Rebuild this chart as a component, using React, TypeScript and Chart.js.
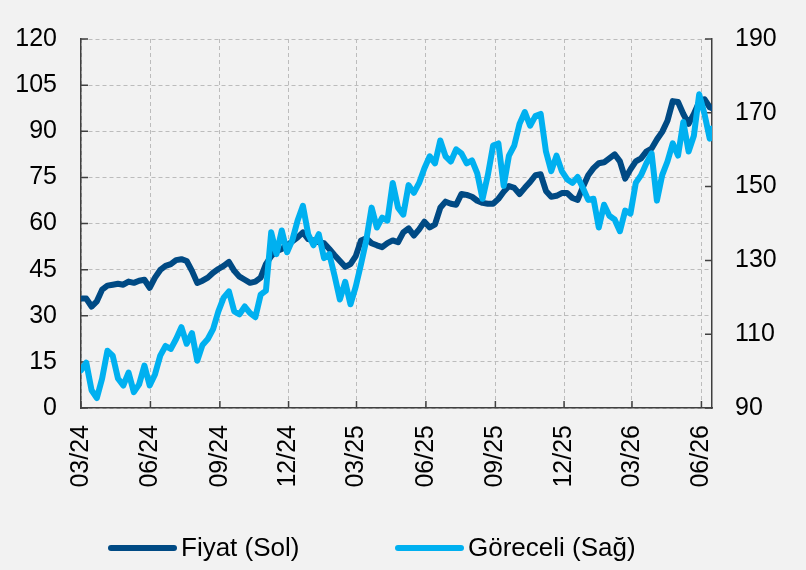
import React, { useEffect, useRef } from "react";
import { Chart, registerables } from "chart.js";

Chart.register(...registerables);

const startDate = "2024-03-01";
const endDay = 836;
const weekStep = 7;

const tickDates = [
  "2024-03-01", "2024-06-01", "2024-09-01", "2024-12-01", "2025-03-01",
  "2025-06-01", "2025-09-01", "2025-12-01", "2026-03-01", "2026-06-01",
];
const tickLabels = ["03/24", "06/24", "09/24", "12/24", "03/25", "06/25", "09/25", "12/25", "03/26", "06/26"];

const leftTicks = { min: 0, max: 120, step: 15 };
const rightTicks = { min: 90, max: 190, step: 20 };

const seriesNames = ["Fiyat (Sol)", "Göreceli (Sağ)"];
const seriesColors = ["#004a84", "#00b0f0"];

const fiyat = [
  35.6, 35.6, 33.0, 34.7, 38.5, 39.8, 40.1, 40.4, 40.1, 41.1,
  40.7, 41.4, 41.7, 39.1, 42.4, 44.9, 46.2, 46.8, 48.1, 48.4,
  47.8, 44.6, 40.7, 41.4, 42.4, 44.0, 45.2, 46.2, 47.5, 44.6,
  42.7, 41.7, 40.7, 41.1, 42.4, 46.8, 49.4, 51.0, 51.7, 52.9,
  54.2, 55.5, 57.1, 54.9, 54.5, 53.9, 53.6, 51.7, 49.7, 47.8,
  45.9, 46.8, 49.4, 54.5, 55.2, 53.6, 52.9, 52.3, 53.6, 54.5,
  53.9, 57.1, 58.4, 56.1, 58.1, 60.6, 58.7, 59.7, 65.1, 67.1,
  66.4, 66.1, 69.6, 69.3, 68.7, 67.4, 66.7, 66.4, 66.4, 68.0,
  70.3, 72.2, 71.6, 69.6, 71.6, 73.5, 75.7, 76.0, 70.6, 68.7,
  69.0, 69.9, 69.9, 68.3, 67.7, 71.9, 75.7, 78.0, 79.6, 79.9,
  81.2, 82.5, 80.2, 74.6, 77.6, 80.2, 81.2, 83.4, 84.4, 87.3,
  89.8, 93.4, 99.8, 99.5, 95.6, 92.4, 95.6, 99.5, 100.4, 97.8,
  97.5,
];

const goreceli = [
  100.2, 102.3, 94.8, 92.7, 98.0, 105.5, 104.2, 98.0, 96.1, 99.6,
  94.3, 96.4, 101.5, 96.1, 99.1, 104.2, 106.8, 106.0, 108.7, 111.9,
  107.4, 110.3, 102.8, 107.1, 108.7, 111.4, 116.2, 119.9, 121.6, 116.2,
  115.4, 117.5, 115.7, 114.6, 120.7, 121.8, 137.6, 131.7, 138.1, 132.2,
  135.5, 140.8, 144.8, 137.1, 134.1, 137.1, 130.6, 131.7, 125.8, 119.4,
  124.2, 118.1, 122.9, 129.0, 135.5, 144.3, 138.9, 141.6, 140.8, 151.0,
  144.3, 142.4, 150.4, 148.3, 151.0, 155.0, 158.2, 156.3, 162.5, 158.2,
  156.8, 160.1, 159.0, 156.3, 157.1, 153.6, 146.7, 153.1, 161.1, 161.7,
  150.2, 158.4, 161.1, 167.0, 170.2, 166.5, 169.1, 169.7, 159.5, 154.2,
  158.4, 154.2, 152.0, 151.0, 152.6, 149.6, 146.4, 146.7, 138.9, 145.1,
  142.1, 141.1, 137.9, 143.5, 142.7, 151.0, 153.1, 156.3, 159.0, 146.2,
  153.1, 156.8, 161.7, 158.4, 167.5, 159.5, 163.8, 175.0, 169.7, 163.0,
  165.7,
];

const dayOf = (d: string) => (Date.parse(d) - Date.parse(startDate)) / 86400000;
const tickDays = tickDates.map(dayOf);
const sampleDays = fiyat.map((_, i) => (i < fiyat.length - 1 ? i * weekStep : endDay));

const FONT = "'Liberation Sans', Arial, sans-serif";
const AXIS = "#404040";
const GRID = "#bcbcbc";

const innerTicks = {
  id: "innerTicks",
  beforeDatasetsDraw(chart: any) {
    const { ctx, chartArea, scales } = chart;
    const { left, right, bottom } = chartArea;
    ctx.save();
    ctx.strokeStyle = AXIS;
    ctx.lineWidth = 1.5;
    ctx.beginPath();
    scales.x.ticks.forEach((t: any) => {
      const p = scales.x.getPixelForValue(t.value);
      ctx.moveTo(p, bottom);
      ctx.lineTo(p, bottom - 7);
    });
    scales.y.ticks.forEach((t: any) => {
      const p = scales.y.getPixelForValue(t.value);
      ctx.moveTo(left, p);
      ctx.lineTo(left + 7, p);
    });
    scales.y1.ticks.forEach((t: any) => {
      const p = scales.y1.getPixelForValue(t.value);
      ctx.moveTo(right, p);
      ctx.lineTo(right - 7, p);
    });
    ctx.stroke();
    ctx.restore();
  },
};

export default function App() {
  const ref = useRef<HTMLCanvasElement | null>(null);

  useEffect(() => {
    if (!ref.current) return;
    const chart = new Chart(ref.current, {
      type: "line",
      data: {
        datasets: [
          {
            label: seriesNames[1],
            data: goreceli.map((v, i) => ({ x: sampleDays[i], y: v })),
            borderColor: seriesColors[1],
            backgroundColor: seriesColors[1],
            yAxisID: "y1",
            borderWidth: 6,
            pointRadius: 0,
            borderJoinStyle: "round",
            borderCapStyle: "round",
            tension: 0,
          },
          {
            label: seriesNames[0],
            data: fiyat.map((v, i) => ({ x: sampleDays[i], y: v })),
            borderColor: seriesColors[0],
            backgroundColor: seriesColors[0],
            yAxisID: "y",
            borderWidth: 6,
            pointRadius: 0,
            borderJoinStyle: "round",
            borderCapStyle: "round",
            tension: 0,
          },
        ],
      },
      options: {
        animation: false,
        responsive: false,
        maintainAspectRatio: false,
        layout: { padding: { top: 34, left: 0, right: 0, bottom: 0 } },
        plugins: { legend: { display: false }, tooltip: { enabled: false } },
        scales: {
          x: {
            type: "linear",
            min: 0,
            max: endDay,
            afterBuildTicks: (s: any) => {
              s.ticks = tickDays.map((v) => ({ value: v }));
            },
            afterFit: (s: any) => {
              s.height = 162;
            },
            ticks: {
              autoSkip: false,
              minRotation: 90,
              maxRotation: 90,
              padding: 17,
              color: "#000",
              font: { family: FONT, size: 25 },
              callback: (_v: any, i: number) => tickLabels[i],
            },
            grid: { color: GRID, lineWidth: 1, drawTicks: false },
            border: { color: AXIS, width: 1.5, dash: [4, 3] },
          },
          y: {
            position: "left",
            min: leftTicks.min,
            max: leftTicks.max,
            afterFit: (s: any) => {
              s.width = 81;
            },
            ticks: {
              stepSize: leftTicks.step,
              padding: 24,
              color: "#000",
              font: { family: FONT, size: 25 },
            },
            grid: { color: GRID, lineWidth: 1, drawTicks: false },
            border: { color: AXIS, width: 1.5, dash: [4, 3] },
          },
          y1: {
            position: "right",
            min: rightTicks.min,
            max: rightTicks.max,
            afterFit: (s: any) => {
              s.width = 94;
            },
            ticks: {
              stepSize: rightTicks.step,
              padding: 23,
              color: "#000",
              font: { family: FONT, size: 25 },
            },
            grid: { drawOnChartArea: false, drawTicks: false },
            border: { color: AXIS, width: 1.5 },
          },
        },
      },
      plugins: [innerTicks],
    } as any);
    return () => chart.destroy();
  }, []);

  const legendItems = [
    { name: seriesNames[0], color: seriesColors[0], lineLeft: 108, textLeft: 181 },
    { name: seriesNames[1], color: seriesColors[1], lineLeft: 395, textLeft: 468 },
  ];

  return (
    <div
      style={{
        position: "fixed",
        left: 0,
        top: 0,
        width: 806,
        height: 570,
        background: "#f2f2f2",
        overflow: "hidden",
      }}
    >
      <canvas ref={ref} width={806} height={570} style={{ width: 806, height: 570, display: "block" }} />
      {legendItems.map((it) => (
        <React.Fragment key={it.name}>
          <div
            style={{
              position: "absolute",
              left: it.lineLeft,
              top: 545,
              width: 69,
              height: 6,
              borderRadius: 3,
              background: it.color,
            }}
          />
          <div
            style={{
              position: "absolute",
              left: it.textLeft,
              top: 532,
              height: 30,
              lineHeight: "30px",
              fontFamily: FONT,
              fontSize: 26,
              color: "#000",
              whiteSpace: "nowrap",
            }}
          >
            {it.name}
          </div>
        </React.Fragment>
      ))}
    </div>
  );
}
